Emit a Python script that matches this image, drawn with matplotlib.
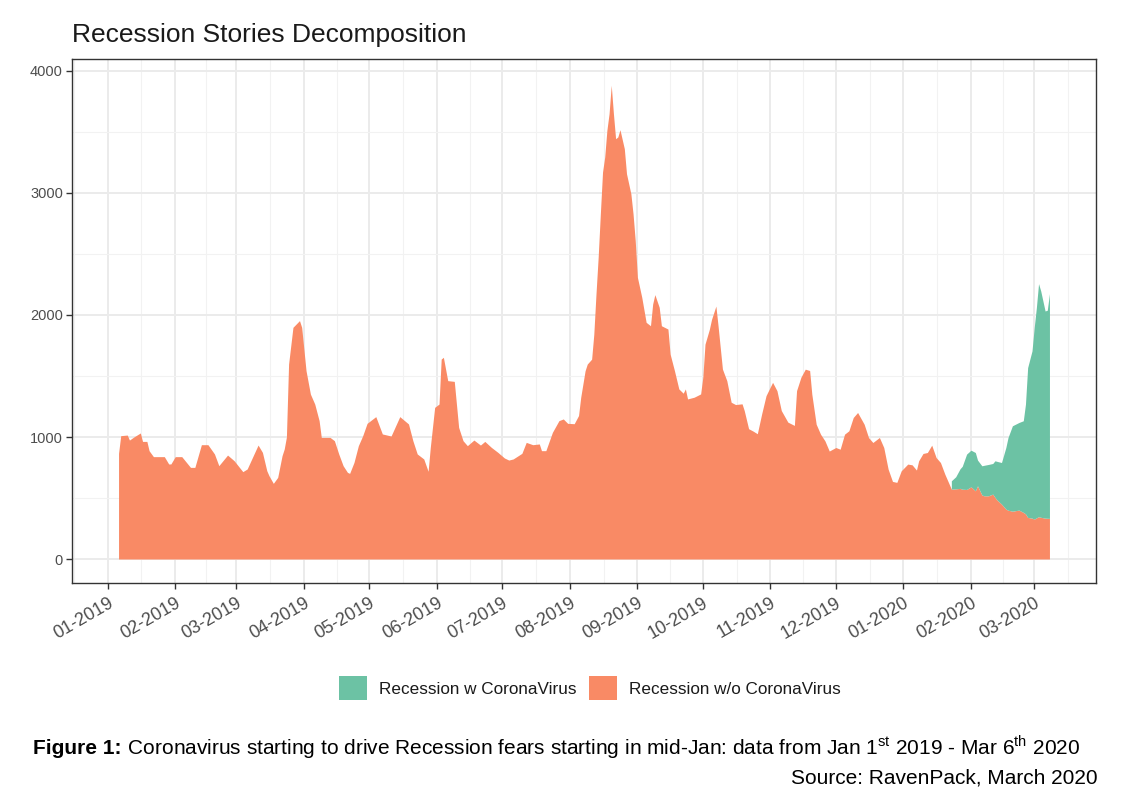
import matplotlib
matplotlib.use("Agg")
import matplotlib.pyplot as plt
import matplotlib.dates as mdates
import matplotlib.transforms as mtransforms
from matplotlib.patches import Patch
import pandas as pd

plt.rcParams['font.family'] = ['Liberation Sans', 'DejaVu Sans']
plt.rcParams['mathtext.fontset'] = 'custom'
plt.rcParams['mathtext.rm'] = 'Liberation Sans'

# days since 2019-01-01
day_num = [5, 6, 9, 10, 12, 15, 16, 18, 19, 21, 26, 28, 29, 31, 34, 38, 40, 43, 46, 49,
           51, 55, 58, 62, 64, 69, 71, 73, 74, 76, 78, 80, 81, 82, 83, 85, 88, 89, 91, 93,
           95, 97, 98, 102, 104, 106, 108, 110, 111, 113, 115, 117, 119, 123, 126, 130, 134, 138, 140, 142,
           145, 147, 148, 150, 152, 153, 154, 156, 159, 161, 163, 165, 168, 171, 173, 176, 179, 182, 184, 186,
           190, 192, 195, 198, 199, 201, 204, 207, 209, 211, 214, 216, 217, 219, 220, 222, 223, 224, 225, 226,
           227, 228, 229, 230, 231, 232, 233, 234, 235, 237, 238, 240, 241, 242, 243, 245, 247, 249, 250, 251,
           253, 254, 257, 258, 260, 262, 264, 265, 266, 269, 272, 273, 274, 276, 277, 279, 280, 282, 284, 286,
           288, 291, 292, 294, 296, 298, 300, 302, 305, 307, 309, 312, 315, 316, 318, 320, 322, 323, 325, 327,
           329, 331, 334, 336, 338, 340, 342, 344, 347, 349, 351, 354, 356, 358, 360, 362, 364, 367, 369, 371,
           372, 374, 376, 378, 380, 382, 384,
           387, 389, 391, 392, 394, 396, 398, 399, 401, 402, 404, 406, 407, 408, 410, 412, 413, 415, 418, 420,
           421, 422, 424, 425, 426, 427, 428, 430, 431, 432]

no_corona = [866, 1011, 1016, 975, 1000, 1033, 964, 964, 888, 839, 839, 779, 779, 839, 839, 751, 751, 937, 937, 861,
             765, 852, 806, 716, 738, 934, 874, 724, 683, 620, 669, 847, 902, 1000, 1598, 1899, 1954, 1899, 1544, 1352,
             1270, 1134, 997, 997, 970, 861, 765, 710, 702, 792, 929, 1011, 1112, 1167, 1025, 1008, 1167, 1107, 970, 861,
             820, 719, 915, 1243, 1270, 1639, 1653, 1462, 1456, 1079, 970, 929, 975, 934, 964, 915, 874, 828, 811, 820,
             866, 956, 937, 943, 888, 888, 1038, 1134, 1148, 1112, 1109, 1176, 1326, 1543, 1598, 1638, 1842, 2172, 2473, 2829,
             3171, 3295, 3514, 3650, 3883, 3650, 3445, 3459, 3519, 3363, 3158, 2994, 2829, 2610, 2309, 2145, 1940, 1912, 2090, 2167,
             2063, 1912, 1885, 1680, 1543, 1394, 1359, 1394, 1312, 1326, 1353, 1489, 1761, 1883, 1964, 2073, 1910, 1557, 1462, 1285,
             1266, 1272, 1217, 1068, 1049, 1027, 1190, 1339, 1448, 1380, 1217, 1122, 1095, 1380, 1490, 1556, 1545, 1351, 1105, 1023,
             969, 885, 914, 900, 1023, 1051, 1160, 1201, 1105, 996, 955, 996, 914, 737, 636, 628, 723, 778, 772, 729,
             805, 865, 873, 933, 832, 791, 696,
             573, 575, 579, 572, 570, 592, 559, 600, 525, 518, 518, 532, 505, 483, 450, 409, 400, 392, 401, 382,
             370, 341, 335, 327, 337, 347, 342, 335, 334, 333]

# coronavirus stories, from 2020-01-23 on (same days as the end of day_num)
corona_day = [387, 389, 391, 392, 394, 396, 398, 399, 401, 402, 404, 406, 407, 408, 410, 412, 413, 415, 418, 420,
              421, 422, 424, 425, 426, 427, 428, 430, 431, 432]
corona = [68, 99, 161, 188, 290, 300, 314, 211, 239, 250, 257, 251, 300, 317, 341, 505, 596, 700, 718, 751,
          899, 1228, 1371, 1570, 1723, 1910, 1855, 1698, 1705, 1842]

labels = ['Recession w CoronaVirus', 'Recession w/o CoronaVirus']
colors = ['#6CC2A4', '#F98A65']

start = pd.Timestamp('2019-01-01')
dates = start + pd.to_timedelta(day_num, unit='D')
wo = pd.Series(no_corona, index=dates)
c_dates = start + pd.to_timedelta(corona_day, unit='D')
base = wo.loc[c_dates].values
top = base + pd.Series(corona).values

fig = plt.figure(figsize=(11.21, 8.06), dpi=100)
ax = fig.add_axes([72 / 1121, 1 - 582.8 / 806, 1024 / 1121, 523.4 / 806])

ax.fill_between(dates, 0, wo.values, color=colors[1], lw=0, zorder=3)
ax.fill_between(c_dates, base, top, color=colors[0], lw=0, zorder=3)

# ggplot-like 5% expansion
span = dates[-1] - dates[0]
ax.set_xlim(dates[0] - span * 0.05, dates[-1] + span * 0.05)
ax.set_ylim(-195, 4095)

months = pd.date_range('2018-11-01', '2020-06-01', freq='MS')
mids = [months[i] + (months[i + 1] - months[i]) / 2 for i in range(len(months) - 1)]
ax.xaxis.set_major_locator(mdates.MonthLocator())
ax.xaxis.set_major_formatter(mdates.DateFormatter('%m-%Y'))
ax.xaxis.set_minor_locator(matplotlib.ticker.FixedLocator(mdates.date2num(mids)))
ax.set_yticks([0, 1000, 2000, 3000, 4000])
ax.set_yticks([500, 1500, 2500, 3500], minor=True)

ax.grid(which='major', color='#EBEBEB', lw=1.4, zorder=0)
ax.grid(which='minor', color='#F2F2F2', lw=0.8, zorder=0)
ax.set_axisbelow(True)
for s in ax.spines.values():
    s.set_color('#333333')
    s.set_linewidth(1.0)

ax.tick_params(which='major', direction='out', length=4.5, width=1.0, color='#333333',
               labelcolor='#4D4D4D', pad=3)
ax.tick_params(axis='y', labelsize=10.5, pad=2)
ax.tick_params(axis='x', labelsize=13, pad=4)
ax.tick_params(which='minor', length=0)
for lab in ax.get_xticklabels():
    lab.set_rotation(30)
    lab.set_ha('right')
    lab.set_va('top')
    lab.set_rotation_mode('anchor')

fig.text(72 / 1121, 1 - 41.7 / 806, 'Recession Stories Decomposition', fontsize=19,
         ha='left', va='baseline', color='#1A1A1A')

handles = [Patch(facecolor=c, edgecolor='none') for c in colors]
fig.legend(handles, labels, loc='center', bbox_to_anchor=(590 / 1121, 1 - 688 / 806), ncol=2,
           frameon=False, fontsize=12.3, handlelength=1.65, handleheight=1.75,
           handletextpad=0.7, columnspacing=0.7, labelcolor='#1A1A1A')

cap_y = 1 - 754.3 / 806
t1 = fig.text(33 / 1121, cap_y, 'Figure 1:', fontsize=15, fontweight='bold',
              ha='left', va='baseline')
fig.canvas.draw()
bb = t1.get_window_extent(fig.canvas.get_renderer())
fig.text(bb.x1 / fig.bbox.width, cap_y,
         ' Coronavirus starting to drive Recession fears starting in mid-Jan: data from '
         r'Jan 1$^{\mathrm{st}}$ 2019 - Mar 6$^{\mathrm{th}}$ 2020',
         fontsize=15, ha='left', va='baseline')
fig.text(1098 / 1121, 1 - 783.3 / 806, 'Source: RavenPack, March 2020', fontsize=15,
         ha='right', va='baseline')

fig.savefig('out.png', dpi=100)
